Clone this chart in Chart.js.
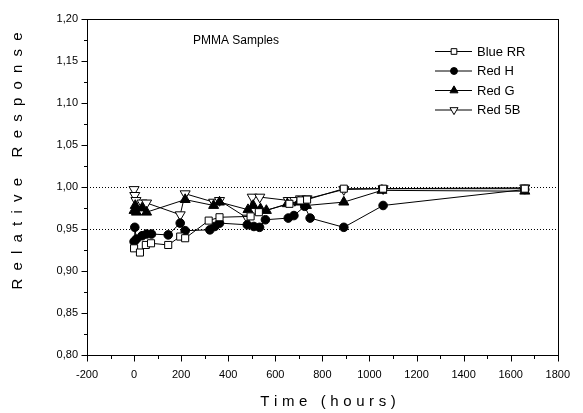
<!DOCTYPE html>
<html>
<head>
<meta charset="utf-8">
<script src="https://cdn.jsdelivr.net/npm/chart.js@4.4.1/dist/chart.umd.min.js"></script>
<style>
  html, body { margin: 0; padding: 0; background: #fff; }
  #wrap { width: 583px; height: 413px; position: relative; }
</style>
</head>
<body>
<div id="wrap"><canvas id="chart"></canvas></div>
<script>
// values (time in hours, relative response)
var blueTime = [0, 25, 50, 72, 145, 196, 217, 317, 363, 495, 530, 660, 707, 735, 891, 1058, 1660];
var blueResp = [0.927, 0.922, 0.931, 0.933, 0.931, 0.941, 0.939, 0.960, 0.964, 0.965, 0.970, 0.980, 0.984, 0.985, 0.998, 0.998, 0.998];

var redHTime = [0, 3, 10, 34, 53, 74, 145, 196, 217, 322, 343, 363, 481, 509, 533, 558, 655, 679, 725, 748, 891, 1058, 1660];
var redHResp = [0.935, 0.952, 0.938, 0.942, 0.944, 0.944, 0.943, 0.957, 0.948, 0.949, 0.953, 0.957, 0.955, 0.953, 0.952, 0.961, 0.963, 0.966, 0.977, 0.963, 0.952, 0.978, 0.997];

var redGTime = [0, 5, 10, 34, 53, 217, 338, 363, 484, 506, 537, 562, 651, 700, 732, 891, 1053, 1660];
var redGResp = [0.972, 0.978, 0.970, 0.975, 0.970, 0.985, 0.978, 0.982, 0.973, 0.978, 0.974, 0.972, 0.980, 0.982, 0.978, 0.982, 0.996, 0.995];

var red5BTime = [0, 3, 8, 34, 53, 196, 217, 338, 363, 481, 502, 534, 655, 683, 707, 735, 891, 1058, 1660];
var red5BResp = [0.997, 0.990, 0.984, 0.981, 0.981, 0.967, 0.992, 0.982, 0.984, 0.963, 0.988, 0.988, 0.984, 0.984, 0.986, 0.986, 0.997, 0.998, 0.999];

var seriesNames = ['Blue RR', 'Red H', 'Red G', 'Red 5B'];
var refLines = [1.00, 0.95];
var xTicks = [-200, 1800, 200];   // min, max, step
var yTicks = [0.80, 1.20, 0.05];

var FONT = '"Liberation Sans", Arial, sans-serif';

function pts(xs, ys) {
    return xs.map(function(x, i) { return { x: x, y: ys[i] }; });
}

var styles = [
    { pointStyle: 'rect', pointRadius: 5, bg: '#fff', rot: 0 },
    { pointStyle: 'circle', pointRadius: 4.3, bg: '#000', rot: 0 },
    { pointStyle: 'triangle', pointRadius: 5.8, bg: '#000', rot: 0 },
    { pointStyle: 'triangle', pointRadius: 5.8, bg: '#fff', rot: 180 }
];
var allData = [pts(blueTime, blueResp), pts(redHTime, redHResp), pts(redGTime, redGResp), pts(red5BTime, red5BResp)];

var datasets = allData.map(function(d, i) {
    var s = styles[i];
    return {
        label: seriesNames[i],
        data: d,
        showLine: true,
        borderColor: '#000',
        borderWidth: 1,
        pointStyle: s.pointStyle,
        pointRadius: s.pointRadius,
        pointHoverRadius: s.pointRadius,
        pointRotation: s.rot,
        pointBackgroundColor: s.bg,
        pointBorderColor: '#000',
        pointBorderWidth: 1
    };
});

function spacedText(ctx, text, x, y, spacing) {
    // draws text centred on x with extra letter spacing
    var total = 0, widths = [];
    for (var i = 0; i < text.length; i++) {
        var w = ctx.measureText(text[i]).width;
        widths.push(w);
        total += w + (i < text.length - 1 ? spacing : 0);
    }
    var cx = x - total / 2;
    for (var j = 0; j < text.length; j++) {
        ctx.fillText(text[j], cx, y);
        cx += widths[j] + spacing;
    }
}

var decor = {
    id: 'decor',
    beforeDatasetsDraw: function(chart) {
        var ctx = chart.ctx, a = chart.chartArea, ys = chart.scales.y;
        ctx.save();
        ctx.strokeStyle = '#000';
        ctx.lineWidth = 1;
        ctx.setLineDash([1, 2]);
        refLines.forEach(function(v) {
            var py = Math.round(ys.getPixelForValue(v)) + 0.5;
            ctx.beginPath();
            ctx.moveTo(a.left, py);
            ctx.lineTo(a.right, py);
            ctx.stroke();
        });
        ctx.restore();
    },
    afterDraw: function(chart) {
        var ctx = chart.ctx, a = chart.chartArea;
        var xs = chart.scales.x, ys = chart.scales.y;
        ctx.save();
        ctx.strokeStyle = '#000';
        ctx.fillStyle = '#000';
        ctx.lineWidth = 1;
        ctx.setLineDash([]);
        // frame
        ctx.strokeRect(Math.round(a.left) + 0.5, Math.round(a.top) + 0.5,
            Math.round(a.right - a.left), Math.round(a.bottom - a.top));

        // tick marks, major and minor
        var bottom = Math.round(a.bottom) + 0.5, left = Math.round(a.left) + 0.5;
        ctx.beginPath();
        for (var k = 0; k <= 20; k++) {
            var xv = xTicks[0] + k * xTicks[2] / 2;
            var px = Math.round(xs.getPixelForValue(xv)) + 0.5;
            ctx.moveTo(px, bottom);
            ctx.lineTo(px, bottom + (k % 2 === 0 ? 6 : 3.5));
        }
        for (var m = 0; m <= 16; m++) {
            var yv = yTicks[0] + m * yTicks[2] / 2;
            var py = Math.round(ys.getPixelForValue(yv)) + 0.5;
            ctx.moveTo(left, py);
            ctx.lineTo(left - (m % 2 === 0 ? 6 : 3.5), py);
        }
        ctx.stroke();

        // axis titles
        ctx.font = '15px ' + FONT;
        ctx.textBaseline = 'middle';
        ctx.textAlign = 'left';
        spacedText(ctx, 'Time (hours)', 328, 402, 4.6);
        ctx.save();
        ctx.translate(18, 161);
        ctx.rotate(-Math.PI / 2);
        spacedText(ctx, 'Relative Response', 0, 0, 8.2);
        ctx.restore();

        // inner caption
        ctx.font = '12px ' + FONT;
        ctx.fillText('PMMA Samples', 193, 41);

        // legend
        ctx.font = '13px ' + FONT;
        var rowY = [51, 70.5, 90, 109.5];
        chart.data.datasets.forEach(function(ds, i) {
            var y = rowY[i];
            ctx.beginPath();
            ctx.moveTo(435, y + 0.5);
            ctx.lineTo(472, y + 0.5);
            ctx.stroke();
            ctx.fillStyle = ds.pointBackgroundColor;
            ctx.strokeStyle = '#000';
            Chart.helpers.drawPoint(ctx, {
                pointStyle: ds.pointStyle,
                rotation: ds.pointRotation,
                radius: ds.pointRadius * 0.8,
                borderWidth: 1
            }, 454, y + 0.5);
            ctx.fillStyle = '#000';
            ctx.fillText(ds.label, 477, y + 1);
        });
        ctx.restore();
    }
};

new Chart(document.getElementById('chart').getContext('2d'), {
    type: 'scatter',
    data: { datasets: datasets },
    plugins: [decor],
    options: {
        responsive: true,
        maintainAspectRatio: false,
        animation: false,
        layout: { padding: { top: 19, right: 17, left: 0, bottom: 0 } },
        plugins: { legend: { display: false }, tooltip: { enabled: false } },
        scales: {
            x: {
                type: 'linear',
                min: xTicks[0],
                max: xTicks[1],
                grid: { display: false, drawTicks: false },
                border: { display: false },
                ticks: {
                    stepSize: xTicks[2],
                    color: '#000',
                    padding: 13,
                    font: { family: FONT, size: 11 },
                    callback: function(v) { return String(v); }
                },
                afterFit: function(s) { s.height = 58; }
            },
            y: {
                min: yTicks[0],
                max: yTicks[1],
                grid: { display: false, drawTicks: false },
                border: { display: false },
                ticks: {
                    stepSize: yTicks[2],
                    color: '#000',
                    padding: 9,
                    font: { family: FONT, size: 11 },
                    callback: function(v) { return v.toFixed(2).replace('.', ','); }
                },
                afterFit: function(s) { s.width = 87; }
            }
        }
    }
});
</script>
</body>
</html>
